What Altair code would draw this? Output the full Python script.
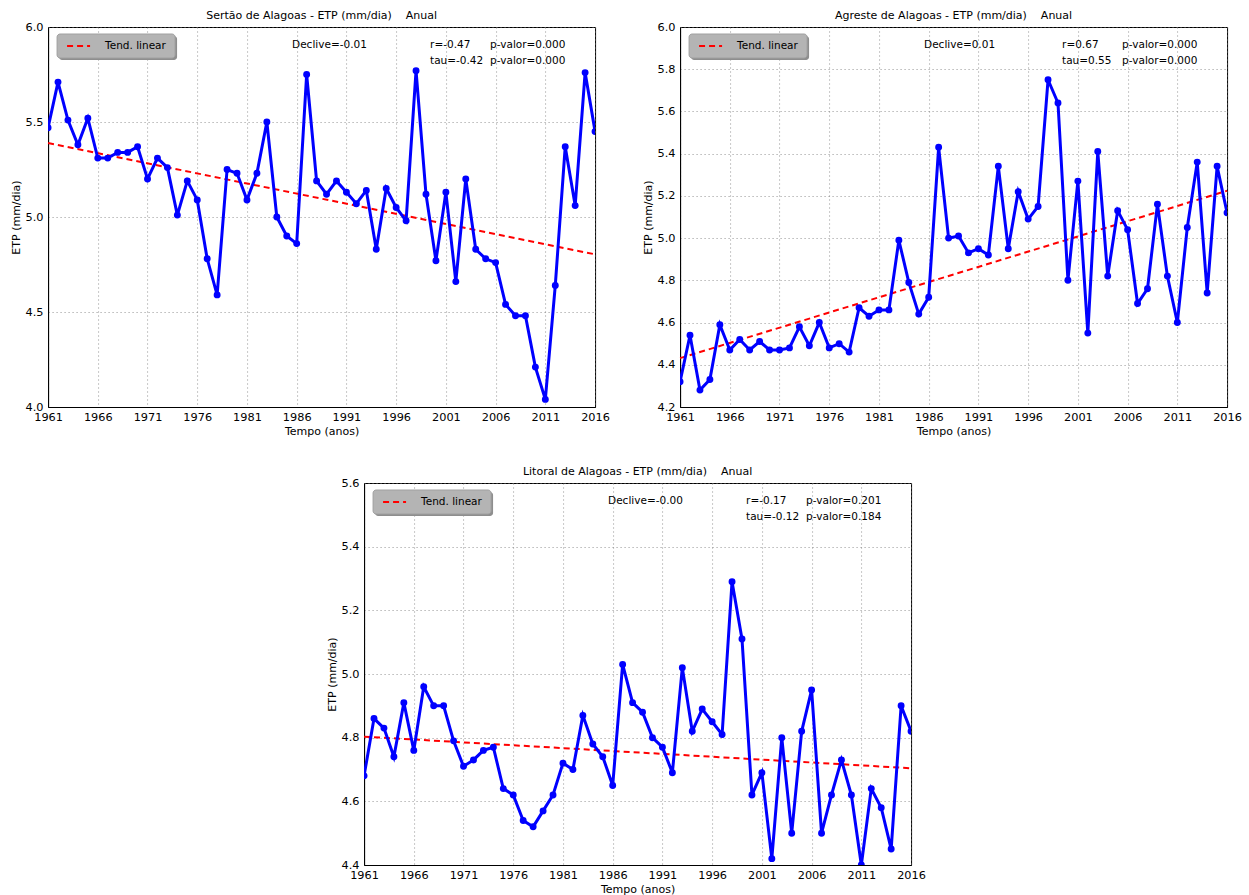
import altair as alt
import pandas as pd

years = list(range(1961, 2017))

sertao = [5.47, 5.71, 5.51, 5.38, 5.52, 5.31, 5.31, 5.34, 5.34, 5.37,
          5.20, 5.31, 5.26, 5.01, 5.19, 5.09, 4.78, 4.59, 5.25, 5.23,
          5.09, 5.23, 5.50, 5.00, 4.90, 4.86, 5.75, 5.19, 5.12, 5.19,
          5.13, 5.07, 5.14, 4.83, 5.15, 5.05, 4.98, 5.77, 5.12, 4.77,
          5.13, 4.66, 5.20, 4.83, 4.78, 4.76, 4.54, 4.48, 4.48, 4.21,
          4.04, 4.64, 5.37, 5.06, 5.76, 5.45]

agreste = [4.32, 4.54, 4.28, 4.33, 4.59, 4.47, 4.52, 4.47, 4.51, 4.47,
           4.47, 4.48, 4.58, 4.49, 4.60, 4.48, 4.50, 4.46, 4.67, 4.63,
           4.66, 4.66, 4.99, 4.79, 4.64, 4.72, 5.43, 5.00, 5.01, 4.93,
           4.95, 4.92, 5.34, 4.95, 5.22, 5.09, 5.15, 5.75, 5.64, 4.80,
           5.27, 4.55, 5.41, 4.82, 5.13, 5.04, 4.69, 4.76, 5.16, 4.82,
           4.60, 5.05, 5.36, 4.74, 5.34, 5.12]

litoral = [4.68, 4.86, 4.83, 4.74, 4.91, 4.76, 4.96, 4.90, 4.90, 4.79,
           4.71, 4.73, 4.76, 4.77, 4.64, 4.62, 4.54, 4.52, 4.57, 4.62,
           4.72, 4.70, 4.87, 4.78, 4.74, 4.65, 5.03, 4.91, 4.88, 4.80,
           4.77, 4.69, 5.02, 4.82, 4.89, 4.85, 4.81, 5.29, 5.11, 4.62,
           4.69, 4.42, 4.80, 4.50, 4.82, 4.95, 4.50, 4.62, 4.73, 4.62,
           4.40, 4.64, 4.58, 4.45, 4.90, 4.82]

x_ticks = list(range(1961, 2017, 5))
sertao_yticks = [4.0, 4.5, 5.0, 5.5, 6.0]
agreste_yticks = [4.2, 4.4, 4.6, 4.8, 5.0, 5.2, 5.4, 5.6, 5.8, 6.0]
litoral_yticks = [4.4, 4.6, 4.8, 5.0, 5.2, 5.4, 5.6]

FONT = "DejaVu Sans"
NB = "\u00a0"
W = 547


def txt(s, px, py):
    one = alt.Chart(pd.DataFrame({"k": [0]}))
    return one.mark_text(align="left", baseline="middle", font=FONT,
                         fontSize=10.5, color="black").encode(
        x=alt.value(px), y=alt.value(py), text=alt.value(s))


def panel(title, vals, ydom, yticks, h, declive, r, p1, tau, p2):
    df = pd.DataFrame({"year": years, "etp": vals})
    base = alt.Chart(df)
    x = alt.X("year:Q",
              scale=alt.Scale(domain=[1961, 2016], nice=False, zero=False),
              axis=alt.Axis(values=x_ticks, format="d", title="Tempo (anos)"))
    y = alt.Y("etp:Q",
              scale=alt.Scale(domain=ydom, nice=False, zero=False),
              axis=alt.Axis(values=yticks, format=".1f", title="ETP (mm/dia)"))
    line = base.mark_line(color="#0000ff", strokeWidth=3, clip=True).encode(x=x, y=y)
    pts = base.mark_point(filled=True, color="#0000ff", size=48, opacity=1,
                          clip=True).encode(x=x, y=y)
    trend = base.transform_regression("year", "etp").mark_line(
        color="#ff0000", strokeWidth=2, strokeDash=[6, 4]).encode(x=x, y=y)
    one = alt.Chart(pd.DataFrame({"k": [0]}))
    shadow = one.mark_rect(fill="#8e8e8e", cornerRadius=3).encode(
        x=alt.value(11), x2=alt.value(129), y=alt.value(9), y2=alt.value(33))
    box = one.mark_rect(fill="#b4b4b4", stroke="#a0a0a0", strokeWidth=1,
                        cornerRadius=3).encode(
        x=alt.value(9), x2=alt.value(127), y=alt.value(7), y2=alt.value(31))
    dash = one.mark_rule(color="#ff0000", strokeWidth=2, strokeDash=[6, 4]).encode(
        x=alt.value(19), x2=alt.value(42), y=alt.value(19))
    leg = txt("Tend. linear", 57, 19)
    t1 = txt(declive, 244, 18)
    t2 = txt(r, 382, 18)
    t3 = txt(p1, 442, 18)
    t4 = txt(tau, 382, 34)
    t5 = txt(p2, 442, 34)
    return alt.layer(trend, line, pts, shadow, box, dash, leg, t1, t2, t3, t4, t5).properties(
        width=W, height=h,
        title=alt.TitleParams(title, fontSize=11, font=FONT, fontWeight="normal",
                              anchor="middle", offset=0, color="black"))


p1 = panel("Sertão de Alagoas - ETP (mm/dia)" + NB * 4 + "Anual", sertao, [4.0, 6.0],
           sertao_yticks, 380, "Declive=-0.01", "r=-0.47", "p-valor=0.000",
           "tau=-0.42", "p-valor=0.000")
p2 = panel("Agreste de Alagoas - ETP (mm/dia)" + NB * 4 + "Anual", agreste, [4.2, 6.0],
           agreste_yticks, 380, "Declive=0.01", "r=0.67", "p-valor=0.000",
           "tau=0.55", "p-valor=0.000")
p3 = panel("Litoral de Alagoas - ETP (mm/dia)" + NB * 4 + "Anual", litoral, [4.4, 5.6],
           litoral_yticks, 382, "Declive=-0.00", "r=-0.17", "p-valor=0.201",
           "tau=-0.12", "p-valor=0.184")

chart = alt.vconcat(alt.hconcat(p1, p2, spacing=31), p3, spacing=28, center=True).properties(
    padding={"left": 9, "top": 9, "right": 4, "bottom": 2},
    background="white",
).configure_view(
    stroke="black", strokeWidth=1
).configure_axis(
    labelFont=FONT, labelFontSize=11.3, labelColor="black",
    titleFont=FONT, titleFontSize=11, titleFontWeight="normal", titleColor="black",
    tickSize=0, labelPadding=5, titlePadding=4,
    grid=True, gridColor="#777777", gridDash=[1, 3], gridWidth=0.8,
    domainColor="black", labelFlush=False,
).configure_axisX(labelPadding=4, titlePadding=3)

chart.save("out.html", embed_options={"renderer": "svg", "actions": False})
